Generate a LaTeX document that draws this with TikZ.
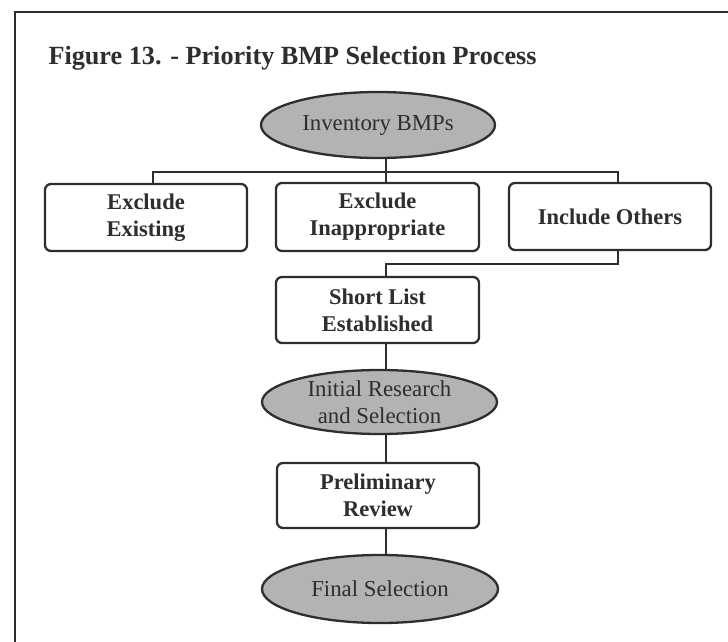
\documentclass[tikz,border=0pt]{standalone}
\usepackage{fontspec}
\setmainfont{Liberation Serif}
\usetikzlibrary{shapes.geometric}
\definecolor{ink}{HTML}{2E2E2E}
\definecolor{oval}{HTML}{B3B3B3}
\tikzset{
  conn/.style={draw=ink, line width=2.3pt},
  stepbox/.style={draw=ink, line width=2.3pt, rounded corners=6pt, fill=white,
    align=center, inner sep=0pt, text=ink,
    font=\fontsize{22.5}{27}\selectfont\bfseries},
  oval/.style={ellipse, draw=ink, line width=2.3pt, fill=oval, inner sep=0pt,
    align=center, text=ink, font=\fontsize{22.8}{27}\selectfont},
}
\begin{document}
\begin{tikzpicture}[x=1pt,y=-1pt]
\useasboundingbox (0,0) rectangle (728,642);
\draw[ink, line width=2.5pt] (15,642) -- (15,12) -- (728,12);
\node[anchor=base west, text=ink, font=\fontsize{26.2}{30}\selectfont\bfseries] (title) at (45,65) {Figure 13. - Priority BMP Selection Process};

\node[oval, minimum width=234pt, minimum height=66pt] (inv) at (378,125) {Inventory BMPs};
\node[stepbox, minimum width=202pt, minimum height=67pt] (ee) at (146,217.5) {Exclude\\Existing};
\node[stepbox, minimum width=203pt, minimum height=68pt] (ei) at (377.5,217) {Exclude\\Inappropriate};
\node[stepbox, minimum width=202pt, minimum height=67pt] (io) at (610,216.5) {Include Others};
\node[stepbox, minimum width=203pt, minimum height=66pt] (sl) at (377.5,310) {Short List\\Established};
\node[oval, minimum width=235pt, minimum height=64pt] (ir) at (379.5,402) {Initial Research\\and Selection};
\node[stepbox, minimum width=202pt, minimum height=65pt] (pr) at (378,495.5) {Preliminary\\Review};
\node[oval, minimum width=236pt, minimum height=68pt] (fs) at (380,589) {Final Selection};

\coordinate (sx) at (386,0);
\coordinate (bus) at (386,172);
\coordinate (low) at (386,264);
\coordinate (eex) at (153,0);
\coordinate (iox) at (618,0);

\draw[conn] (inv.south -| sx) -- (bus);
\draw[conn] (ee.north -| eex) -- (bus -| eex) -- (bus -| iox) -- (io.north -| iox);
\draw[conn] (bus) -- (ei.north -| sx);
\draw[conn] (io.south -| iox) -- (low -| iox) -- (low) -- (sl.north -| sx);
\draw[conn] (sl.south -| sx) -- (ir.north -| sx);
\draw[conn] (ir.south -| sx) -- (pr.north -| sx);
\draw[conn] (pr.south -| sx) -- (fs.north -| sx);
\end{tikzpicture}
\end{document}
